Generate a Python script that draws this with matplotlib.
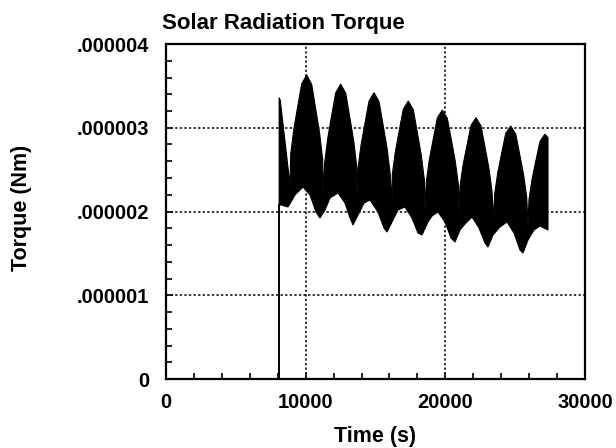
import matplotlib
matplotlib.use("Agg")
import matplotlib.pyplot as plt
import numpy as np
from matplotlib.ticker import MultipleLocator, FixedLocator, FixedFormatter

plt.rcParams['font.family'] = ['Liberation Sans', 'DejaVu Sans']
plt.rcParams['font.weight'] = 'bold'

# ---- data ----
start_time = 8100.0
start_value = 0.0

# upper envelope of the torque band (time s, torque in 1e-6 Nm)
upper_t = [8100, 8180, 8878,
           8928, 9143, 9358, 9716, 10074, 10432, 10790, 11005, 11220, 11241,
           11363, 11578, 11793, 12151, 12509, 12867, 13225, 13440, 13655, 13676,
           13747, 13962, 14177, 14535, 14893, 15251, 15609, 15824, 16039, 16182,
           16203, 16418, 16633, 16991, 17349, 17707, 18065, 18280, 18495, 18544,
           18637, 18852, 19067, 19425, 19783, 20141, 20499, 20714, 20929, 20979,
           21050, 21265, 21480, 21838, 22196, 22554, 22912, 23127, 23342, 23485,
           23535, 23750, 23965, 24323, 24681, 25039, 25397, 25612, 25827, 25919,
           25990, 26205, 26420, 26778, 27136, 27350]
upper_v = [3.36, 3.33, 2.316,
           2.684, 2.973, 3.183, 3.525, 3.630, 3.517, 3.151, 2.926, 2.616, 2.221,
           2.585, 2.872, 3.080, 3.418, 3.522, 3.413, 3.059, 2.842, 2.542, 2.161,
           2.513, 2.790, 2.991, 3.318, 3.419, 3.314, 2.971, 2.760, 2.470, 2.101,
           2.442, 2.710, 2.905, 3.222, 3.319, 3.215, 2.877, 2.669, 2.382, 2.018,
           2.352, 2.615, 2.806, 3.116, 3.212, 3.114, 2.794, 2.597, 2.326, 1.982,
           2.301, 2.551, 2.733, 3.029, 3.120, 3.022, 2.705, 2.510, 2.241, 1.899,
           2.213, 2.460, 2.640, 2.931, 3.021, 2.926, 2.619, 2.430, 2.170, 1.839,
           2.143, 2.382, 2.556, 2.838, 2.925, 2.88]

# lower envelope of the torque band
lower_t = [8100, 8234, 8735, 9236, 9809, 10310, 10740, 11026, 11384, 11742,
           12315, 12816, 13174, 13389, 13747, 14177, 14606, 15179, 15609,
           15824, 16182, 16611, 17112, 17614, 18043, 18330, 18759, 19046,
           19475, 19976, 20406, 20692, 21050, 21408, 21910, 22411, 22840,
           23055, 23413, 23914, 24416, 24917, 25346, 25561, 25919, 26349,
           26778, 27350]
lower_v = [2.08, 2.078, 2.054, 2.197, 2.293, 2.197, 1.994, 1.922, 2.018, 2.161,
           2.221, 2.101, 1.922, 1.839, 1.958, 2.101, 2.137, 1.994, 1.803,
           1.755, 1.875, 2.018, 2.054, 1.922, 1.743, 1.719, 1.875, 1.946,
           1.994, 1.875, 1.684, 1.636, 1.779, 1.851, 1.934, 1.803, 1.624,
           1.576, 1.719, 1.815, 1.875, 1.743, 1.540, 1.504, 1.660, 1.779,
           1.827, 1.779]

xticks = [0, 10000, 20000, 30000]
xtick_labels = ["0", "10000", "20000", "30000"]
yticks = [0, 1e-6, 2e-6, 3e-6, 4e-6]
ytick_labels = ["0", ".000001", ".000002", ".000003", ".000004"]

scale = 1e-6
up_t = np.array(upper_t, float)
up_v = np.array(upper_v) * scale
lo_t = np.array(lower_t, float)
lo_v = np.array(lower_v) * scale

fig = plt.figure(figsize=(6.16, 4.48), dpi=100)
ax = fig.add_axes([166/616, 1-379/448, (585-166)/616, (379-44)/448])

ax.grid(True, which='major', color='black', linestyle=(0, (1.5, 1.5)), linewidth=1.1)
ax.set_axisbelow(True)

poly_t = np.concatenate([up_t, lo_t[::-1]])
poly_v = np.concatenate([up_v, lo_v[::-1]])
ax.fill(poly_t, poly_v, color='black', linewidth=0.8, edgecolor='black', zorder=3)
ax.plot([start_time, start_time], [start_value, lower_v[0]*scale], color='black', lw=1.4, zorder=3)

ax.set_xlim(0, 30000)
ax.set_ylim(0, 4e-6)
ax.xaxis.set_major_locator(FixedLocator(xticks))
ax.xaxis.set_major_formatter(FixedFormatter(xtick_labels))
ax.yaxis.set_major_locator(FixedLocator(yticks))
ax.yaxis.set_major_formatter(FixedFormatter(ytick_labels))
ax.xaxis.set_minor_locator(MultipleLocator(2000))
ax.yaxis.set_minor_locator(MultipleLocator(2e-7))

ax.tick_params(which='both', direction='in', top=False, right=False, width=1.2)
ax.tick_params(which='major', length=5, labelsize=14.5)
ax.tick_params(which='minor', length=4)
ax.tick_params(axis='x', which='major', pad=10)
ax.tick_params(axis='y', which='major', pad=12)
for lab in ax.get_xticklabels() + ax.get_yticklabels():
    lab.set_fontweight('bold')

for s in ax.spines.values():
    s.set_linewidth(1.6)

ax.set_xlabel("Time (s)", fontsize=15.5, fontweight='bold')
ax.xaxis.set_label_coords(0.5, -0.14)
ax.set_ylabel("Torque (Nm)", fontsize=15.5, fontweight='bold')
ax.yaxis.set_label_coords(-0.32, 0.51)
ax.set_title("Solar Radiation Torque", fontsize=16, fontweight='bold', loc='left', pad=11, x=-0.01)

fig.savefig("out.png", dpi=100)
